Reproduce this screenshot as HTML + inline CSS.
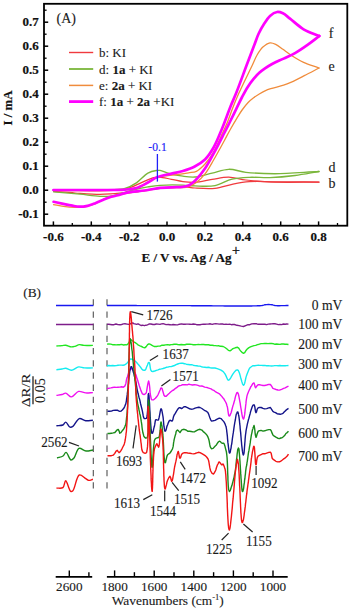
<!DOCTYPE html>
<html><head><meta charset="utf-8"><style>
html,body{margin:0;padding:0;background:#fff;}
body{width:350px;height:609px;overflow:hidden;}
svg{display:block;}
text{font-family:"Liberation Serif",serif;fill:#1a1a1a;}
.tb{font-weight:bold;font-size:13px;fill:#111;stroke:#111;stroke-width:0.2px;}
.tr{font-size:13px;stroke:#1a1a1a;stroke-width:0.12px;}
.b{font-weight:bold;}
</style></head><body>
<svg width="350" height="609" viewBox="0 0 350 609">
<rect width="350" height="609" fill="#fff"/>
<rect x="44" y="3.8" width="303.3" height="221.9" fill="none" stroke="#000" stroke-width="1.8"/>
<line x1="44" y1="214.2" x2="48.2" y2="214.2" stroke="#000" stroke-width="1.5"/>
<text x="38.8" y="218.0" text-anchor="end" class="tb">-0.1</text>
<line x1="44" y1="190.2" x2="48.2" y2="190.2" stroke="#000" stroke-width="1.5"/>
<text x="38.8" y="194.0" text-anchor="end" class="tb">0.0</text>
<line x1="44" y1="166.2" x2="48.2" y2="166.2" stroke="#000" stroke-width="1.5"/>
<text x="38.8" y="170.0" text-anchor="end" class="tb">0.1</text>
<line x1="44" y1="142.2" x2="48.2" y2="142.2" stroke="#000" stroke-width="1.5"/>
<text x="38.8" y="146.0" text-anchor="end" class="tb">0.2</text>
<line x1="44" y1="118.2" x2="48.2" y2="118.2" stroke="#000" stroke-width="1.5"/>
<text x="38.8" y="122.0" text-anchor="end" class="tb">0.3</text>
<line x1="44" y1="94.2" x2="48.2" y2="94.2" stroke="#000" stroke-width="1.5"/>
<text x="38.8" y="98.0" text-anchor="end" class="tb">0.4</text>
<line x1="44" y1="70.2" x2="48.2" y2="70.2" stroke="#000" stroke-width="1.5"/>
<text x="38.8" y="74.0" text-anchor="end" class="tb">0.5</text>
<line x1="44" y1="46.2" x2="48.2" y2="46.2" stroke="#000" stroke-width="1.5"/>
<text x="38.8" y="50.0" text-anchor="end" class="tb">0.6</text>
<line x1="44" y1="22.2" x2="48.2" y2="22.2" stroke="#000" stroke-width="1.5"/>
<text x="38.8" y="26.0" text-anchor="end" class="tb">0.7</text>
<line x1="44" y1="202.2" x2="46.6" y2="202.2" stroke="#000" stroke-width="1.3"/>
<line x1="44" y1="178.2" x2="46.6" y2="178.2" stroke="#000" stroke-width="1.3"/>
<line x1="44" y1="154.2" x2="46.6" y2="154.2" stroke="#000" stroke-width="1.3"/>
<line x1="44" y1="130.2" x2="46.6" y2="130.2" stroke="#000" stroke-width="1.3"/>
<line x1="44" y1="106.2" x2="46.6" y2="106.2" stroke="#000" stroke-width="1.3"/>
<line x1="44" y1="82.2" x2="46.6" y2="82.2" stroke="#000" stroke-width="1.3"/>
<line x1="44" y1="58.2" x2="46.6" y2="58.2" stroke="#000" stroke-width="1.3"/>
<line x1="44" y1="34.2" x2="46.6" y2="34.2" stroke="#000" stroke-width="1.3"/>
<line x1="44" y1="10.2" x2="46.6" y2="10.2" stroke="#000" stroke-width="1.3"/>
<line x1="53.4" y1="225.7" x2="53.4" y2="221.4" stroke="#000" stroke-width="1.5"/>
<text x="53.4" y="241.0" text-anchor="middle" class="tb">-0.6</text>
<line x1="72.3" y1="225.7" x2="72.3" y2="223.0" stroke="#000" stroke-width="1.3"/>
<line x1="91.3" y1="225.7" x2="91.3" y2="221.4" stroke="#000" stroke-width="1.5"/>
<text x="91.3" y="241.0" text-anchor="middle" class="tb">-0.4</text>
<line x1="110.2" y1="225.7" x2="110.2" y2="223.0" stroke="#000" stroke-width="1.3"/>
<line x1="129.2" y1="225.7" x2="129.2" y2="221.4" stroke="#000" stroke-width="1.5"/>
<text x="129.2" y="241.0" text-anchor="middle" class="tb">-0.2</text>
<line x1="148.1" y1="225.7" x2="148.1" y2="223.0" stroke="#000" stroke-width="1.3"/>
<line x1="167.0" y1="225.7" x2="167.0" y2="221.4" stroke="#000" stroke-width="1.5"/>
<text x="167.0" y="241.0" text-anchor="middle" class="tb">0.0</text>
<line x1="186.0" y1="225.7" x2="186.0" y2="223.0" stroke="#000" stroke-width="1.3"/>
<line x1="204.9" y1="225.7" x2="204.9" y2="221.4" stroke="#000" stroke-width="1.5"/>
<text x="204.9" y="241.0" text-anchor="middle" class="tb">0.2</text>
<line x1="223.9" y1="225.7" x2="223.9" y2="223.0" stroke="#000" stroke-width="1.3"/>
<line x1="242.8" y1="225.7" x2="242.8" y2="221.4" stroke="#000" stroke-width="1.5"/>
<text x="242.8" y="241.0" text-anchor="middle" class="tb">0.4</text>
<line x1="261.7" y1="225.7" x2="261.7" y2="223.0" stroke="#000" stroke-width="1.3"/>
<line x1="280.7" y1="225.7" x2="280.7" y2="221.4" stroke="#000" stroke-width="1.5"/>
<text x="280.7" y="241.0" text-anchor="middle" class="tb">0.6</text>
<line x1="299.6" y1="225.7" x2="299.6" y2="223.0" stroke="#000" stroke-width="1.3"/>
<line x1="318.6" y1="225.7" x2="318.6" y2="221.4" stroke="#000" stroke-width="1.5"/>
<text x="318.6" y="241.0" text-anchor="middle" class="tb">0.8</text>
<line x1="337.5" y1="225.7" x2="337.5" y2="223.0" stroke="#000" stroke-width="1.3"/>
<text x="141.4" y="262.3" class="tb" style="font-size:13.1px">E / V vs. Ag / Ag<tspan dx="0.6" dy="-6.8" style="font-size:14px;font-weight:normal;stroke-width:0.35px">+</tspan></text>
<text transform="translate(12.3,108) rotate(-90)" text-anchor="middle" class="tb" style="font-size:12.8px">I / mA</text>
<text x="56.5" y="23.2" class="tr" style="font-size:14px">(A)</text>
<path d="M53.40,190.30 C76.27,190.20 110.06,191.77 122.00,190.00 C126.35,189.35 127.65,188.54 130.70,187.40 C134.26,186.07 138.19,183.91 142.00,182.30 C145.82,180.68 150.37,178.50 153.60,177.70 C155.79,177.16 157.05,177.02 159.30,177.10 C162.59,177.22 167.42,178.54 171.40,179.30 C175.29,180.04 179.00,181.10 182.90,181.60 C186.86,182.11 190.63,182.54 195.00,182.30 C200.22,182.01 206.44,180.27 212.10,179.40 C217.67,178.54 223.12,177.02 228.70,177.10 C234.39,177.18 239.40,179.22 245.90,180.00 C254.31,181.01 264.29,181.73 275.00,182.10 C288.15,182.56 304.33,182.03 319.00,182.00" fill="none" stroke="#f03a3e" stroke-width="1.25" stroke-linejoin="round" stroke-linecap="round"/>
<path d="M319.00,182.00 C304.33,181.93 287.71,181.85 275.00,181.80 C265.29,181.76 256.99,181.14 249.30,181.70 C242.97,182.16 237.80,183.20 232.10,184.30 C226.37,185.40 220.96,187.66 215.00,188.30 C208.63,188.99 200.83,188.36 195.00,188.00 C190.46,187.72 187.33,186.84 182.90,186.70 C177.52,186.53 170.89,186.97 165.00,187.50 C159.22,188.02 153.19,188.97 147.90,189.80 C143.29,190.52 139.79,191.51 135.00,192.10 C129.08,192.83 121.19,193.12 115.00,193.50 C109.64,193.83 105.64,194.30 100.00,194.30 C92.73,194.30 83.01,193.51 75.00,193.00 C67.59,192.53 60.73,191.93 53.60,191.40" fill="none" stroke="#f03a3e" stroke-width="1.25" stroke-linejoin="round" stroke-linecap="round"/>
<path d="M53.40,190.20 C72.27,190.10 97.19,190.53 110.00,189.90 C116.61,189.57 120.45,189.78 125.00,188.50 C129.18,187.32 132.74,185.31 136.40,182.90 C140.40,180.28 144.15,175.16 147.90,173.10 C150.78,171.52 154.15,170.87 156.40,170.50 C157.83,170.27 158.55,170.19 160.00,170.40 C162.37,170.75 165.72,172.50 169.10,173.40 C173.19,174.49 178.43,175.60 182.90,176.20 C187.05,176.76 190.65,177.35 195.00,177.00 C200.24,176.58 206.44,174.39 212.10,173.10 C217.67,171.83 223.10,169.45 228.70,169.30 C234.37,169.15 239.39,171.58 245.90,172.30 C254.31,173.23 264.30,173.71 275.00,173.70 C288.16,173.69 304.33,172.23 319.00,171.50" fill="none" stroke="#7ab63a" stroke-width="1.35" stroke-linejoin="round" stroke-linecap="round"/>
<path d="M319.00,171.50 C311.00,172.83 303.10,174.49 295.00,175.50 C286.77,176.53 277.95,177.32 270.00,177.60 C262.78,177.85 255.87,177.00 249.30,177.30 C243.29,177.57 237.74,177.76 232.10,179.10 C226.30,180.48 221.03,184.45 215.00,185.60 C208.69,186.81 200.83,186.05 195.00,185.90 C190.46,185.78 187.57,185.23 182.90,185.10 C176.48,184.92 166.41,184.85 160.00,185.30 C155.32,185.63 151.99,186.22 147.90,186.90 C143.66,187.61 139.01,188.54 135.00,189.50 C131.44,190.36 128.55,191.32 125.00,192.30 C120.95,193.41 116.28,195.14 112.00,195.80 C107.95,196.42 104.50,196.44 100.00,196.30 C94.17,196.12 87.13,194.90 80.00,194.20 C71.81,193.40 62.40,192.60 53.60,191.80" fill="none" stroke="#7ab63a" stroke-width="1.35" stroke-linejoin="round" stroke-linecap="round"/>
<path d="M53.40,190.00 C68.93,190.00 86.87,190.11 100.00,190.00 C109.62,189.92 118.29,190.12 125.00,189.60 C129.55,189.25 132.68,189.12 136.40,188.00 C140.32,186.82 144.32,184.37 147.90,182.50 C151.14,180.80 153.71,178.45 157.00,177.30 C160.39,176.11 164.51,176.06 168.00,175.60 C171.15,175.18 173.81,175.02 177.00,174.60 C180.63,174.12 185.12,173.40 188.60,172.80 C191.46,172.30 193.89,172.50 196.40,171.30 C199.39,169.87 202.30,166.93 205.00,164.00 C208.09,160.65 210.93,156.54 213.60,152.00 C216.70,146.73 219.61,139.40 222.10,134.00 C224.13,129.61 225.77,126.22 227.50,122.00 C229.38,117.42 231.02,112.26 232.90,107.50 C234.76,102.80 236.27,99.02 238.70,93.60 C242.22,85.73 249.04,72.09 252.40,65.00 C254.39,60.82 255.28,58.06 257.10,55.00 C258.81,52.12 260.63,49.16 262.90,47.10 C264.98,45.21 267.70,43.24 270.00,42.90 C271.94,42.61 273.77,43.43 275.70,44.30 C278.06,45.36 280.52,47.60 282.90,49.30 C285.29,51.00 287.19,52.67 290.00,54.50 C293.75,56.95 298.82,60.16 303.60,62.40 C308.48,64.68 313.87,66.13 319.00,68.00" fill="none" stroke="#f08c3c" stroke-width="1.3" stroke-linejoin="round" stroke-linecap="round"/>
<path d="M319.00,68.00 C314.10,70.57 309.05,73.28 304.30,75.70 C299.87,77.96 295.19,80.41 291.40,82.10 C288.50,83.39 286.56,84.23 283.60,85.20 C279.87,86.43 274.11,87.50 270.70,88.60 C268.39,89.35 266.87,89.92 265.00,90.80 C263.07,91.71 261.18,92.85 259.30,94.00 C257.38,95.18 255.46,96.39 253.60,97.80 C251.65,99.28 249.72,100.81 247.90,102.70 C245.87,104.81 243.90,107.48 242.10,110.00 C240.30,112.51 238.88,114.89 237.10,117.80 C234.90,121.39 232.20,126.05 230.00,130.00 C227.96,133.66 226.52,136.62 224.30,140.70 C221.31,146.20 217.04,154.13 213.60,160.00 C210.64,165.05 208.11,169.97 205.00,173.90 C202.32,177.29 199.44,180.29 196.40,182.50 C193.71,184.45 191.28,185.88 187.90,186.80 C183.52,187.99 176.93,187.54 172.00,187.80 C167.72,188.02 164.00,187.89 160.00,188.30 C155.96,188.72 152.58,189.59 147.90,190.30 C141.48,191.28 132.20,192.13 125.00,193.50 C118.45,194.75 111.71,196.05 106.40,198.00 C102.12,199.57 98.88,202.12 95.30,203.60 C92.14,204.90 88.97,205.99 86.10,206.60 C83.69,207.11 81.35,207.17 79.30,207.30 C77.62,207.40 76.57,207.47 74.70,207.40 C71.75,207.29 66.94,206.79 63.30,206.30 C59.93,205.84 56.83,205.17 53.60,204.60" fill="none" stroke="#f08c3c" stroke-width="1.3" stroke-linejoin="round" stroke-linecap="round"/>
<path d="M53.40,190.00 C68.93,190.00 86.87,190.11 100.00,190.00 C109.62,189.92 118.29,190.12 125.00,189.60 C129.55,189.25 132.68,189.12 136.40,188.00 C140.32,186.82 144.32,184.37 147.90,182.50 C151.14,180.80 153.51,178.71 157.00,177.30 C161.15,175.61 166.86,174.70 171.40,173.60 C175.44,172.62 179.11,172.12 182.90,171.00 C186.75,169.86 190.67,168.67 194.30,166.80 C198.05,164.87 201.86,162.57 205.00,159.50 C208.35,156.22 210.95,152.11 213.60,147.50 C216.74,142.03 219.35,135.14 222.10,128.50 C225.06,121.36 228.08,112.53 230.70,106.00 C232.75,100.91 234.28,97.82 236.40,92.50 C239.40,84.97 243.52,73.43 246.70,65.00 C249.42,57.80 252.12,50.71 254.30,45.00 C255.93,40.73 256.92,37.39 258.60,33.80 C260.26,30.26 262.30,26.70 264.30,23.60 C266.11,20.79 267.75,17.87 270.00,15.90 C272.07,14.09 274.79,12.33 277.10,12.00 C279.08,11.72 280.96,12.41 282.90,13.30 C285.26,14.39 287.27,16.51 290.00,18.60 C293.82,21.53 298.70,26.39 303.60,29.30 C308.47,32.19 314.07,33.77 319.30,36.00" fill="none" stroke="#ff00ff" stroke-width="2.7" stroke-linejoin="round" stroke-linecap="round"/>
<path d="M319.30,36.00 C315.50,38.87 311.86,41.80 307.90,44.60 C303.78,47.51 299.25,50.69 295.00,53.10 C291.16,55.28 287.41,56.78 283.60,58.60 C279.78,60.42 275.43,62.20 272.10,64.00 C269.40,65.46 267.20,66.87 265.00,68.40 C262.96,69.82 261.13,71.13 259.30,72.80 C257.32,74.60 255.44,76.68 253.60,78.90 C251.63,81.29 249.73,83.86 247.90,86.70 C245.88,89.84 243.98,93.44 242.10,97.00 C240.14,100.73 238.35,104.63 236.40,108.60 C234.35,112.78 232.17,117.33 230.10,121.50 C228.14,125.45 226.54,128.62 224.30,133.00 C221.29,138.88 217.04,147.31 213.60,153.60 C210.64,159.03 208.05,164.13 205.00,168.60 C202.28,172.59 199.45,176.34 196.40,179.30 C193.71,181.90 191.40,184.32 187.90,185.70 C183.61,187.39 176.93,187.03 172.00,187.40 C167.72,187.72 163.99,187.47 160.00,187.90 C155.96,188.33 152.58,189.28 147.90,190.00 C141.48,190.99 130.43,191.90 125.00,193.10 C121.92,193.78 120.24,194.67 117.90,195.30 C115.67,195.90 113.50,196.15 111.30,196.80 C109.00,197.47 106.84,198.33 104.40,199.30 C101.56,200.42 98.37,202.05 95.30,203.20 C92.27,204.34 88.97,205.64 86.10,206.20 C83.69,206.67 81.57,206.78 79.30,206.70 C77.00,206.62 74.85,206.12 72.40,205.70 C69.57,205.22 66.38,204.54 63.30,203.90 C60.12,203.24 56.83,202.50 53.60,201.80" fill="none" stroke="#ff00ff" stroke-width="2.7" stroke-linejoin="round" stroke-linecap="round"/>
<line x1="69" y1="52.5" x2="93.2" y2="52.5" stroke="#f03a3e" stroke-width="1.4"/>
<text x="99.0" y="57.1" class="tr">b: KI</text>
<line x1="69" y1="69.0" x2="93.2" y2="69.0" stroke="#7ab63a" stroke-width="1.8"/>
<text x="99.0" y="73.6" class="tr">d: <tspan class="b">1a</tspan> + KI</text>
<line x1="69" y1="85.4" x2="93.2" y2="85.4" stroke="#f08c3c" stroke-width="1.5"/>
<text x="99.0" y="90.0" class="tr">e: <tspan class="b">2a</tspan> + KI</text>
<line x1="69" y1="101.6" x2="93.2" y2="101.6" stroke="#ff00ff" stroke-width="2.8"/>
<text x="99.0" y="106.2" class="tr">f: <tspan class="b">1a</tspan> + <tspan class="b">2a</tspan> +KI</text>
<text x="328.8" y="37.8" class="tr" style="font-size:14px">f</text>
<text x="328.4" y="71.0" class="tr" style="font-size:14px">e</text>
<text x="328.6" y="171.8" class="tr" style="font-size:14px">d</text>
<text x="328.6" y="188.0" class="tr" style="font-size:14px">b</text>
<line x1="157.4" y1="154" x2="157.4" y2="181.6" stroke="#2020f8" stroke-width="1.3"/>
<text transform="translate(157.5,151.0) scale(1,1.12)" text-anchor="middle" style="font-size:11.6px;fill:#2020f8;stroke:#2020f8;stroke-width:0.15px">-0.1</text>
<line x1="55.7" y1="576.8" x2="92.2" y2="576.8" stroke="#000" stroke-width="1.8"/>
<line x1="106.9" y1="576.8" x2="287.7" y2="576.8" stroke="#000" stroke-width="1.8"/>
<line x1="69.3" y1="576.8" x2="69.3" y2="570.4" stroke="#000" stroke-width="1.4"/>
<line x1="88.9" y1="576.8" x2="88.9" y2="572.2" stroke="#000" stroke-width="1.4"/>
<line x1="273.0" y1="576.8" x2="273.0" y2="570.4" stroke="#000" stroke-width="1.4"/>
<text x="273.0" y="591.4" text-anchor="middle" class="tr" style="font-size:13.2px">1000</text>
<line x1="253.2" y1="576.8" x2="253.2" y2="572.2" stroke="#000" stroke-width="1.4"/>
<line x1="233.4" y1="576.8" x2="233.4" y2="570.4" stroke="#000" stroke-width="1.4"/>
<text x="233.4" y="591.4" text-anchor="middle" class="tr" style="font-size:13.2px">1200</text>
<line x1="213.6" y1="576.8" x2="213.6" y2="572.2" stroke="#000" stroke-width="1.4"/>
<line x1="193.8" y1="576.8" x2="193.8" y2="570.4" stroke="#000" stroke-width="1.4"/>
<text x="193.8" y="591.4" text-anchor="middle" class="tr" style="font-size:13.2px">1400</text>
<line x1="174.0" y1="576.8" x2="174.0" y2="572.2" stroke="#000" stroke-width="1.4"/>
<line x1="154.2" y1="576.8" x2="154.2" y2="570.4" stroke="#000" stroke-width="1.4"/>
<text x="154.2" y="591.4" text-anchor="middle" class="tr" style="font-size:13.2px">1600</text>
<line x1="134.4" y1="576.8" x2="134.4" y2="572.2" stroke="#000" stroke-width="1.4"/>
<line x1="114.6" y1="576.8" x2="114.6" y2="570.4" stroke="#000" stroke-width="1.4"/>
<text x="114.6" y="591.4" text-anchor="middle" class="tr" style="font-size:13.2px">1800</text>
<text x="69.3" y="591.4" text-anchor="middle" class="tr" style="font-size:13.2px">2600</text>
<text x="111.8" y="605.0" class="tr" style="font-size:13.4px">Wavenumbers (cm<tspan dy="-5.5" style="font-size:8.5px">-1</tspan><tspan dy="5.5">)</tspan></text>
<text x="23.2" y="297.0" class="tr" style="font-size:13.4px">(B)</text>
<line x1="93.3" y1="299.2" x2="93.3" y2="488.6" stroke="#505050" stroke-width="1.1" stroke-dasharray="6.3,5.9"/>
<line x1="107.0" y1="299.2" x2="107.0" y2="488.6" stroke="#505050" stroke-width="1.1" stroke-dasharray="6.3,5.9"/>
<g transform="translate(30.0,390.3) rotate(-90)"><text x="-16.6" y="0" textLength="33.2" lengthAdjust="spacingAndGlyphs" class="tr" style="font-size:13.4px">&#916;R/R</text></g>
<line x1="33.0" y1="376.3" x2="33.0" y2="404.3" stroke="#333" stroke-width="1.4"/>
<g transform="translate(45.0,390.6) rotate(-90)"><text x="-12.3" y="0" textLength="24.6" lengthAdjust="spacingAndGlyphs" class="tr" style="font-size:13.6px">0.05</text></g>
<path d="M56.0,305.5 L93.4,305.5" fill="none" stroke="#1818f0" stroke-width="1.4" stroke-linejoin="round"/>
<polyline points="107.0,305.5 108.6,305.5 110.2,305.5 111.9,305.5 113.5,305.5 115.1,305.5 116.7,305.5 118.3,305.5 119.9,305.5 121.5,305.5 123.1,305.5 124.7,305.5 126.4,305.5 128.0,305.5 129.6,305.5 131.2,305.5 132.8,305.5 134.4,305.5 136.0,305.5 137.6,305.6 139.2,305.6 140.8,305.6 142.4,305.6 144.0,305.6 145.7,305.6 147.3,305.6 148.9,305.6 150.5,305.6 152.1,305.6 153.7,305.6 155.4,305.6 157.0,305.6 158.6,305.6 160.2,305.6 161.9,305.6 163.5,305.6 165.1,305.6 166.8,305.6 168.4,305.6 170.1,305.6 171.7,305.6 173.4,305.6 175.0,305.6 176.7,305.6 178.3,305.6 180.0,305.6 181.6,305.6 183.2,305.6 184.9,305.6 186.6,305.6 188.3,305.6 190.1,305.6 191.9,305.7 193.8,305.7 195.6,305.7 197.5,305.7 199.4,305.7 201.3,305.7 203.3,305.8 205.2,305.8 207.2,305.8 209.1,305.8 211.1,305.8 213.1,305.9 215.1,305.9 217.0,305.9 219.0,305.9 220.9,305.9 222.9,305.9 224.8,306.0 226.7,306.0 228.6,306.0 230.5,306.0 232.3,306.0 234.1,306.0 235.9,306.0 237.7,306.0 239.4,306.0 241.1,306.0 242.7,306.0 244.3,306.0 245.9,306.0 247.4,306.0 248.9,306.0 250.3,306.0 251.6,306.0 252.9,305.9 254.1,305.9 255.3,305.9 256.4,305.9 257.4,305.8 258.4,305.8 259.3,305.7 260.1,305.7 260.8,305.6 261.4,305.6 262.0,305.5 263.7,305.1 265.0,304.7 266.6,304.6 268.5,304.5 270.4,304.6 272.0,304.7 273.4,305.1 275.0,305.5 276.2,305.6 277.7,305.7 279.3,305.7 281.1,305.6 283.0,305.6 284.9,305.6 286.7,305.5 288.5,305.5" fill="none" stroke="#1818f0" stroke-width="1.4" stroke-linejoin="round"/>
<path d="M56.0,324.5 L93.4,324.5" fill="none" stroke="#7e1d8a" stroke-width="1.4" stroke-linejoin="round"/>
<polyline points="107.0,324.4 108.7,324.3 110.4,324.5 112.0,324.7 114.0,324.7 116.0,324.0 118.0,324.6 120.0,324.8 121.6,324.5 123.4,323.9 125.0,323.8 127.0,324.1 129.0,324.4 131.0,323.5 132.8,322.9 133.9,323.8 135.0,323.9 136.5,324.4 138.0,323.8 139.5,324.7 141.0,325.5 142.6,325.2 144.4,325.7 146.0,325.2 147.5,324.9 149.0,324.0 150.9,324.0 153.0,324.5 154.6,324.5 156.3,324.0 158.1,324.1 160.0,324.4 161.5,323.9 163.1,323.7 164.8,324.2 166.5,324.6 168.2,324.5 170.0,324.7 171.5,324.9 173.1,324.5 174.7,324.7 176.3,324.9 178.0,324.7 179.7,324.2 181.5,323.9 183.2,324.2 185.0,324.2 186.6,324.1 188.2,324.1 189.8,324.2 191.5,324.4 193.2,324.0 194.9,324.2 196.6,324.7 198.3,324.7 200.0,324.8 201.7,324.4 203.3,324.1 205.0,324.2 206.8,324.1 208.6,324.0 210.4,323.8 212.2,324.4 214.0,323.9 215.8,323.8 217.5,323.9 219.2,324.1 220.9,324.0 222.5,324.0 224.0,324.4 226.0,324.2 227.9,324.4 229.7,324.2 231.4,324.7 233.0,324.5 234.5,324.5 236.9,325.3 239.0,325.6 241.3,326.1 243.5,326.5 245.7,325.6 248.0,324.6 249.8,324.7 251.7,323.9 254.0,323.6 255.3,323.7 256.7,323.8 258.2,324.3 259.8,324.1 261.4,324.3 263.1,324.1 264.9,324.3 266.6,324.6 268.3,324.1 270.0,324.0 271.6,323.9 273.3,323.7 274.9,323.7 276.6,324.1 278.3,324.6 280.0,324.5 281.7,324.6 283.4,324.0 285.1,324.2 286.8,324.0 288.5,324.1" fill="none" stroke="#7e1d8a" stroke-width="1.4" stroke-linejoin="round"/>
<path d="M56.40,346.00 C58.27,345.87 60.33,345.75 62.00,345.60 C63.36,345.48 64.35,345.08 65.70,345.20 C67.41,345.36 69.71,346.79 71.40,346.90 C72.73,346.98 73.77,346.64 75.00,346.30 C76.39,345.91 77.81,344.76 79.30,344.60 C80.81,344.44 82.18,345.25 84.00,345.40 C86.49,345.61 89.93,345.40 92.90,345.40" fill="none" stroke="#22e622" stroke-width="1.4" stroke-linejoin="round"/>
<polyline points="107.0,344.1 108.8,343.9 110.7,344.1 112.5,344.7 114.4,344.7 116.2,344.9 118.0,344.6 119.8,344.7 121.6,344.4 123.5,345.0 125.2,344.7 126.7,344.9 127.8,344.2 129.0,342.4 129.6,340.8 129.9,340.0 130.4,339.2 131.9,340.4 133.8,341.8 135.2,342.6 136.8,343.8 138.4,345.2 140.0,345.9 141.6,346.5 143.2,347.3 144.7,347.9 146.2,346.6 147.6,344.7 149.0,343.8 150.5,344.4 152.0,345.3 154.1,346.5 156.4,346.5 158.2,346.1 160.0,346.1 162.0,345.2 163.8,345.3 165.6,344.9 167.5,344.6 169.6,345.0 171.1,344.6 172.6,344.5 174.3,344.2 176.0,344.1 177.7,344.5 179.5,344.7 181.3,344.5 183.2,344.7 185.0,344.7 186.6,344.3 188.2,344.3 189.9,344.3 191.6,344.4 193.3,344.8 195.0,344.8 196.7,344.6 198.4,344.5 200.1,344.6 201.8,344.5 203.4,344.4 205.0,344.8 206.7,344.8 208.5,344.8 210.3,345.2 212.1,345.3 213.8,345.5 215.5,345.6 217.1,345.9 218.5,345.7 219.8,346.2 221.0,346.3 223.2,346.5 225.0,347.5 226.7,348.8 228.4,350.3 230.0,350.8 231.5,349.8 233.0,348.6 235.2,347.8 237.5,347.2 238.7,348.1 240.0,350.1 241.2,351.6 242.4,352.7 243.5,353.3 244.7,352.7 245.8,350.8 247.0,349.3 248.6,347.9 250.4,346.9 252.5,346.1 254.0,345.6 255.7,345.4 257.5,344.6 259.3,344.2 261.2,343.6 263.0,343.6 264.7,343.4 266.3,343.5 268.0,343.6 269.8,343.5 271.5,343.4 273.2,343.7 275.0,344.3 276.6,344.0 278.3,344.2 280.0,344.4 281.7,344.0 283.4,344.0 285.1,344.3 286.8,344.3 288.5,344.5" fill="none" stroke="#22e622" stroke-width="1.4" stroke-linejoin="round"/>
<path d="M56.40,369.70 C58.27,369.47 60.33,369.26 62.00,369.00 C63.36,368.79 64.35,368.20 65.70,368.30 C67.41,368.43 69.41,370.40 71.40,370.30 C73.68,370.18 76.29,367.21 78.60,366.90 C80.57,366.64 82.20,367.72 84.30,367.90 C86.86,368.12 90.03,367.90 92.90,367.90" fill="none" stroke="#14ecf0" stroke-width="1.4" stroke-linejoin="round"/>
<polyline points="107.0,365.8 108.9,365.5 110.7,365.7 112.6,365.5 114.5,365.7 116.3,365.6 118.0,365.2 119.7,365.1 121.4,365.1 123.0,365.2 124.5,365.0 125.9,364.1 127.2,362.9 128.4,361.5 129.4,360.0 130.5,358.9 132.2,359.2 133.8,360.3 135.1,361.0 136.4,362.2 137.7,363.8 138.8,365.0 139.9,366.4 141.0,367.8 142.0,369.3 143.0,370.1 144.0,370.3 144.9,370.2 145.8,369.3 146.6,367.1 147.5,364.9 148.3,362.8 149.0,362.4 149.5,363.0 149.9,364.8 150.2,367.3 150.7,369.9 151.5,371.2 152.9,371.5 154.7,371.0 156.4,370.3 158.1,369.8 159.7,369.2 161.4,368.9 163.0,368.5 164.6,368.0 166.3,367.3 167.9,367.1 169.5,366.6 171.2,366.6 172.9,366.0 174.5,365.5 176.1,364.7 177.7,364.0 179.5,363.4 181.1,363.3 182.8,363.3 184.5,363.7 186.3,364.2 188.2,364.5 190.0,364.8 191.6,364.7 193.2,365.2 194.8,365.6 196.4,365.8 198.1,366.0 199.8,366.1 201.4,366.7 203.0,367.1 204.8,367.2 206.6,367.5 208.4,367.3 210.2,367.7 211.9,368.0 213.5,367.9 215.0,368.0 217.2,368.6 219.2,369.3 221.0,370.1 222.5,371.1 223.8,372.3 225.0,373.9 225.9,375.6 226.8,377.7 227.6,379.6 228.5,380.3 229.5,379.6 230.7,377.8 231.8,375.9 233.0,373.9 234.5,371.9 236.0,370.2 237.5,369.9 238.2,370.3 238.8,371.5 239.5,373.3 240.1,375.4 240.7,377.7 241.3,379.8 241.9,381.9 242.5,383.8 243.0,384.6 243.5,385.3 244.1,384.8 244.6,383.5 245.0,381.8 245.5,379.5 245.9,377.6 246.4,375.9 247.0,374.2 247.7,372.5 248.4,370.8 249.1,369.1 250.0,367.7 251.0,367.0 252.7,365.8 254.7,365.8 257.0,365.4 258.4,365.2 259.8,365.4 261.4,365.4 263.0,365.5 264.7,365.4 266.5,365.7 268.2,365.6 270.0,365.9 271.6,366.0 273.2,365.9 274.8,365.6 276.5,365.6 278.2,365.7 279.9,365.5 281.6,365.7 283.4,365.8 285.1,365.8 286.8,365.6 288.5,365.5" fill="none" stroke="#14ecf0" stroke-width="1.4" stroke-linejoin="round"/>
<path d="M56.40,395.40 C58.27,395.10 60.35,394.94 62.00,394.50 C63.38,394.13 64.38,392.95 65.70,393.10 C67.44,393.30 69.41,396.96 71.40,396.90 C73.69,396.83 76.07,391.97 78.60,391.40 C80.86,390.89 83.31,392.70 85.70,392.90 C88.08,393.10 90.50,392.70 92.90,392.60" fill="none" stroke="#f010f0" stroke-width="1.4" stroke-linejoin="round"/>
<polyline points="107.0,388.8 108.9,388.2 110.8,387.9 112.7,387.5 114.5,387.1 116.3,387.4 118.0,387.2 119.9,387.1 121.7,386.8 123.3,387.2 124.6,386.3 125.4,384.9 125.9,383.4 126.2,381.4 126.5,379.6 127.0,377.8 127.6,376.5 128.2,374.3 128.9,372.4 129.7,370.2 130.4,368.9 131.2,368.4 132.5,369.6 133.9,371.2 135.1,373.1 135.9,374.7 136.5,376.6 137.0,378.6 137.7,380.3 138.2,382.1 138.7,383.7 139.3,385.7 139.9,387.5 140.5,389.3 141.1,390.9 141.7,392.2 142.3,393.7 143.0,394.2 144.3,394.5 145.6,393.6 146.2,392.9 146.6,391.4 147.0,388.8 147.3,386.9 147.7,384.6 148.0,383.1 148.3,381.9 148.6,381.0 148.9,381.7 149.1,383.0 149.4,384.7 149.6,386.4 149.8,388.4 150.0,391.2 150.2,393.7 150.6,395.7 151.0,397.6 151.4,399.3 152.0,399.9 153.6,399.8 155.4,398.3 157.1,396.2 158.0,394.8 158.7,393.2 159.4,391.5 160.1,390.0 160.8,388.1 161.4,387.9 162.1,388.6 162.7,390.7 163.3,392.7 164.0,395.3 164.9,396.3 166.2,396.3 167.7,394.7 169.3,393.3 170.9,391.8 172.2,390.7 173.7,390.0 175.2,388.6 176.6,387.7 178.1,386.4 179.4,385.7 181.1,385.4 182.6,384.7 184.6,384.6 185.9,384.7 187.3,384.9 188.9,384.2 190.6,384.6 192.4,385.0 194.3,384.7 196.1,384.9 198.0,385.4 199.8,386.1 201.4,386.0 203.0,386.3 204.7,387.1 206.3,387.4 207.9,387.8 209.5,388.3 211.0,388.8 212.4,389.9 213.8,390.4 215.0,391.3 216.6,392.3 218.1,393.1 219.4,393.8 220.7,395.2 221.8,396.4 222.8,397.7 223.8,398.8 224.8,400.7 225.6,402.0 226.4,403.6 226.9,405.5 227.4,407.0 227.7,408.8 228.0,411.2 228.3,413.1 228.6,415.0 228.9,415.9 229.3,416.0 229.9,415.7 230.5,414.1 231.1,412.7 231.7,410.5 232.4,407.8 233.0,405.6 233.5,404.2 234.1,402.0 234.7,400.0 235.2,397.6 235.8,395.4 236.4,393.8 236.9,392.6 237.5,392.5 237.9,393.1 238.3,393.9 238.6,395.0 239.0,396.9 239.4,399.1 239.8,401.3 240.2,403.3 240.5,405.6 240.9,408.0 241.3,410.2 241.6,412.5 242.0,414.7 242.3,416.3 242.7,417.8 243.0,418.5 243.3,419.0 243.6,419.1 243.9,418.2 244.2,417.1 244.4,415.8 244.7,414.4 244.9,412.7 245.1,410.1 245.4,408.1 245.6,406.2 245.9,403.9 246.1,401.4 246.4,399.3 246.7,397.7 247.0,395.9 247.4,394.6 248.0,393.0 248.7,391.2 249.4,389.8 250.1,388.4 250.8,386.8 251.5,385.9 252.8,383.7 254.0,382.9 254.6,384.6 255.0,386.6 255.6,387.8 256.6,386.3 258.1,384.8 259.5,384.7 261.2,385.1 263.0,385.5 264.7,385.5 266.7,385.0 268.7,384.4 270.4,384.5 271.6,386.2 272.9,388.3 274.3,388.8 276.1,389.5 277.9,390.0 279.5,390.1 281.6,389.3 283.6,388.4 285.2,387.9 286.9,386.9 288.5,386.2" fill="none" stroke="#f010f0" stroke-width="1.4" stroke-linejoin="round"/>
<path d="M56.40,425.70 C58.57,425.47 61.28,425.79 62.90,425.00 C64.17,424.38 64.68,422.07 65.70,422.10 C67.00,422.14 68.56,426.64 70.00,427.10 C70.97,427.41 71.87,427.05 72.90,426.40 C74.80,425.21 76.90,419.30 79.30,418.60 C81.26,418.03 83.48,420.41 85.70,420.70 C88.00,421.00 90.50,420.43 92.90,420.30" fill="none" stroke="#14148a" stroke-width="1.4" stroke-linejoin="round"/>
<polyline points="107.5,411.3 109.4,411.3 111.4,411.1 113.2,410.4 115.4,410.2 117.3,410.1 118.6,410.9 119.8,411.4 121.0,411.1 122.3,410.0 123.6,408.6 124.7,406.6 125.3,404.9 125.8,403.9 126.1,402.3 126.4,400.8 126.6,398.9 126.9,397.1 127.2,394.9 127.4,392.9 127.6,391.5 127.9,389.5 128.1,387.8 128.3,385.3 128.5,383.3 128.7,380.9 128.9,378.5 129.1,376.7 129.4,375.1 129.6,372.8 129.8,371.1 130.1,369.8 130.4,368.6 130.6,368.0 130.9,366.9 131.2,366.7 131.7,366.8 132.2,368.3 132.8,370.0 133.3,372.0 133.9,373.7 134.4,376.0 135.0,378.2 135.4,379.9 135.8,381.6 136.1,383.0 136.4,385.0 136.7,386.7 137.0,388.6 137.3,390.1 137.7,392.0 138.0,393.3 138.4,394.7 138.8,396.6 139.2,398.0 139.7,399.6 140.1,401.4 140.5,403.4 140.9,405.0 141.3,406.6 141.7,408.1 142.1,409.9 142.5,411.7 142.9,413.8 143.2,415.7 143.7,417.6 144.3,418.5 145.3,418.6 146.3,418.4 146.7,417.7 147.0,416.6 147.2,415.2 147.4,412.9 147.6,410.5 147.7,408.4 147.8,406.3 147.9,404.0 147.9,402.0 148.0,399.4 148.1,397.3 148.2,395.9 148.2,394.4 148.4,393.9 148.5,393.5 148.6,393.7 148.7,394.4 148.9,395.2 149.0,396.1 149.1,397.2 149.2,399.3 149.3,400.8 149.5,402.7 149.6,404.7 149.7,407.6 149.8,409.7 150.0,412.4 150.1,414.5 150.2,417.4 150.4,419.4 150.5,421.4 150.7,423.7 150.8,425.5 151.0,427.5 151.1,429.5 151.3,430.6 151.4,431.7 151.6,432.6 151.8,433.0 152.0,433.3 152.6,433.0 153.2,431.3 153.8,428.4 154.4,426.3 154.8,424.2 155.1,422.1 155.5,420.0 156.1,419.6 157.0,419.9 158.0,420.2 158.5,419.8 159.0,417.9 159.5,415.6 159.9,413.4 160.3,411.1 160.6,409.8 161.0,408.7 161.6,409.4 162.2,412.2 162.7,415.0 163.0,416.7 163.2,418.2 163.4,420.3 163.6,422.7 163.8,424.8 164.0,426.7 164.3,428.1 164.5,429.7 164.8,431.1 165.1,431.2 165.7,430.7 166.3,429.0 166.9,426.4 167.6,424.8 168.4,422.6 169.1,421.1 170.0,420.2 171.0,420.7 172.0,421.2 172.8,419.9 173.4,417.1 174.2,415.0 175.3,413.3 176.4,411.3 177.5,409.6 178.3,408.5 179.1,407.8 180.3,407.8 181.5,408.6 182.7,407.8 184.0,406.8 185.8,406.8 187.9,407.8 189.7,408.8 190.9,409.1 192.1,409.2 193.4,408.8 195.1,408.1 196.9,407.6 198.6,407.3 200.0,407.5 201.9,408.5 203.6,409.7 205.0,410.7 206.6,411.4 207.9,412.6 208.7,414.3 209.3,416.1 209.9,417.8 210.6,419.6 211.4,421.0 213.1,420.8 215.0,420.4 217.2,419.1 219.3,418.1 221.2,418.7 222.9,420.6 224.0,421.9 224.9,423.6 225.7,425.7 226.1,426.6 226.3,428.0 226.6,429.7 226.8,431.6 227.0,433.2 227.2,434.9 227.4,436.6 227.5,438.4 227.7,440.4 227.9,442.4 228.2,444.6 228.4,446.6 228.7,448.6 228.9,450.5 229.2,452.4 229.6,453.1 229.8,452.9 230.0,452.7 230.3,451.8 230.5,450.4 230.8,449.1 231.1,447.8 231.3,445.7 231.7,444.1 232.0,441.9 232.3,439.4 232.6,437.1 233.0,434.5 233.3,432.7 233.7,429.9 234.0,427.7 234.3,425.6 234.7,423.2 235.0,421.5 235.4,419.5 235.7,417.3 236.0,415.6 236.3,414.2 236.7,413.5 236.9,413.0 237.2,412.2 237.5,412.0 237.8,411.9 238.0,412.3 238.3,413.5 238.5,414.7 238.8,415.8 239.0,417.2 239.3,419.6 239.5,421.2 239.7,423.7 240.0,425.8 240.2,428.6 240.4,430.6 240.7,433.1 240.9,435.8 241.1,438.0 241.3,440.6 241.5,442.5 241.7,445.1 241.9,446.7 242.1,448.4 242.3,450.2 242.5,451.7 242.7,452.5 242.9,453.7 243.1,454.5 243.3,455.0 243.5,454.4 243.7,454.2 243.9,453.5 244.1,452.4 244.2,451.1 244.4,448.9 244.5,447.3 244.7,444.9 244.8,443.3 245.0,441.3 245.1,439.3 245.3,437.0 245.5,435.0 245.8,433.0 246.0,431.1 246.3,429.3 246.6,427.8 247.0,425.9 247.4,423.8 247.9,421.8 248.4,419.8 248.9,418.2 249.5,415.9 250.1,413.7 250.6,411.6 251.2,409.8 251.8,408.0 252.3,406.6 252.8,405.5 253.2,405.1 253.6,405.0 254.0,404.7 254.5,405.8 254.9,407.3 255.2,409.6 255.6,411.9 256.0,412.7 256.5,411.8 257.1,409.4 258.1,407.9 259.4,407.4 261.2,407.5 263.0,408.4 264.7,408.9 266.7,408.6 268.7,407.9 270.4,407.5 271.6,409.4 272.9,411.4 274.1,412.1 275.5,412.6 277.1,413.7 278.8,414.0 280.3,414.3 281.7,413.9 283.0,413.3 284.4,411.8 285.8,410.4 287.1,409.3 288.5,408.4" fill="none" stroke="#14148a" stroke-width="1.4" stroke-linejoin="round"/>
<path d="M57.00,458.00 C59.00,457.33 61.45,457.06 63.00,456.00 C64.33,455.09 64.92,452.34 66.00,452.40 C67.51,452.49 69.38,459.67 71.00,460.00 C72.02,460.21 73.01,459.10 74.00,458.00 C75.71,456.10 76.71,449.28 79.00,448.40 C80.90,447.67 83.63,450.75 86.00,451.00 C88.30,451.25 90.67,450.33 93.00,450.00" fill="none" stroke="#1a8a1a" stroke-width="1.4" stroke-linejoin="round"/>
<polyline points="107.5,433.5 109.4,433.5 111.4,433.2 113.3,432.9 114.9,432.5 116.8,430.2 118.2,429.4 119.0,430.8 119.8,433.2 120.9,432.7 122.2,430.8 123.6,429.3 124.7,427.1 125.2,425.8 125.6,424.7 126.0,423.3 126.2,421.1 126.4,419.2 126.6,417.3 126.8,415.9 127.0,414.0 127.2,411.2 127.3,410.4 127.4,409.1 127.5,407.4 127.6,406.1 127.7,404.6 127.7,403.5 127.8,401.5 127.9,399.4 127.9,397.5 128.0,396.0 128.1,394.4 128.1,391.8 128.2,390.2 128.3,387.7 128.3,385.5 128.4,383.5 128.4,381.3 128.5,379.2 128.5,377.3 128.6,374.6 128.6,372.9 128.7,370.7 128.7,368.6 128.8,366.1 128.8,364.3 128.9,361.8 128.9,359.7 129.0,358.0 129.0,356.2 129.1,354.7 129.1,352.9 129.2,351.2 129.2,349.0 129.3,347.7 129.4,346.0 129.4,345.2 129.5,344.2 129.6,343.4 129.7,342.5 129.7,341.3 129.8,340.2 129.9,339.3 130.0,339.6 130.1,338.8 130.2,338.7 130.4,339.4 130.5,339.8 130.7,340.1 130.9,341.5 131.1,343.0 131.3,344.0 131.5,345.4 131.7,347.8 131.9,349.5 132.2,351.3 132.4,353.7 132.6,356.3 132.8,358.2 133.0,360.0 133.2,362.5 133.4,364.5 133.6,366.6 133.8,368.4 134.0,370.2 134.2,372.1 134.4,374.0 134.5,375.6 134.7,377.2 134.9,378.9 135.0,380.9 135.2,381.9 135.3,383.4 135.5,385.4 135.7,387.1 135.8,389.1 136.0,390.6 136.1,392.5 136.3,393.7 136.5,395.2 136.7,396.4 136.9,397.8 137.1,399.9 137.4,402.1 137.7,403.7 138.0,405.1 138.3,406.8 138.7,407.9 139.0,410.1 139.4,411.5 139.7,413.4 140.1,414.7 140.4,416.1 140.7,418.0 141.0,419.6 141.2,421.2 141.5,422.8 141.8,424.8 142.0,427.0 142.3,429.3 142.6,431.0 142.9,432.8 143.3,433.9 143.6,435.4 144.0,436.5 144.5,437.1 145.7,438.1 146.9,437.9 147.2,437.3 147.5,436.8 147.7,435.3 147.9,434.3 148.1,432.4 148.2,430.3 148.3,428.2 148.3,426.1 148.4,424.2 148.4,422.1 148.4,419.8 148.5,416.7 148.4,414.5 148.4,412.6 148.4,410.3 148.4,408.3 148.4,406.0 148.4,404.3 148.4,402.5 148.4,401.5 148.5,400.9 148.5,400.4 148.6,399.9 148.7,400.3 148.7,400.6 148.8,401.4 148.9,401.6 149.0,402.4 149.0,403.5 149.1,404.8 149.2,406.3 149.3,407.4 149.3,409.0 149.4,410.8 149.5,413.0 149.6,415.1 149.7,417.7 149.7,420.0 149.8,422.4 149.9,424.6 150.0,426.7 150.1,429.0 150.2,430.9 150.2,433.7 150.3,436.3 150.4,438.3 150.5,441.0 150.6,442.9 150.7,445.0 150.8,447.7 150.9,449.5 151.0,451.9 151.0,453.5 151.1,455.3 151.2,457.1 151.3,458.9 151.4,460.3 151.5,462.4 151.6,463.3 151.7,464.6 151.8,465.7 151.8,466.4 151.9,466.9 152.0,466.8 152.1,467.4 152.2,466.9 152.4,466.2 152.5,465.6 152.6,464.0 152.7,462.2 152.8,460.1 152.9,458.3 153.0,456.3 153.2,453.5 153.3,451.1 153.4,449.4 153.6,447.0 153.8,445.0 154.0,443.8 154.2,441.9 154.4,440.5 155.1,439.1 156.1,438.2 157.3,437.8 158.6,437.6 159.1,436.8 159.5,435.2 159.8,433.0 160.1,430.7 160.3,428.6 160.4,426.5 160.6,424.3 160.8,422.6 161.0,421.9 161.3,422.5 161.6,424.2 161.9,425.6 162.2,427.8 162.4,430.4 162.7,433.1 162.8,434.7 163.0,436.1 163.1,437.6 163.2,439.4 163.3,440.9 163.4,442.7 163.5,445.1 163.6,447.1 163.7,449.4 163.8,451.8 163.9,453.5 164.0,455.2 164.2,457.5 164.3,458.7 164.4,460.1 164.6,461.6 164.7,462.0 164.9,462.5 165.1,462.7 165.5,462.6 165.9,460.5 166.4,458.5 166.9,456.4 167.6,454.8 168.8,453.8 170.0,453.0 171.3,451.0 172.5,448.9 172.9,447.4 173.2,446.2 173.4,444.4 173.6,442.7 173.9,441.2 174.2,439.4 174.6,437.9 175.1,435.9 175.7,434.0 176.2,431.4 176.9,430.5 177.5,429.9 178.7,431.1 180.0,432.6 181.1,430.8 182.4,429.6 184.1,429.3 186.1,430.0 188.0,431.3 189.6,431.3 191.2,431.5 192.9,431.9 194.7,431.7 196.5,430.6 198.4,429.6 200.0,429.3 201.9,430.1 203.6,431.9 204.7,432.8 205.9,433.9 206.9,435.1 207.9,436.9 208.5,438.5 209.0,440.2 209.4,442.4 209.8,444.7 210.2,446.6 210.8,447.7 211.4,448.7 213.1,448.4 215.0,446.2 216.1,445.3 217.3,443.4 218.3,442.0 219.3,441.2 220.4,441.6 221.4,442.9 222.5,443.2 223.6,443.2 224.3,444.2 224.9,445.9 225.4,448.1 225.9,450.0 226.4,451.8 226.6,453.3 226.8,454.8 226.9,456.0 227.1,458.1 227.2,460.0 227.3,461.6 227.4,463.6 227.5,466.3 227.6,468.7 227.6,470.3 227.7,473.0 227.8,475.2 227.9,476.9 227.9,479.1 228.0,481.0 228.1,483.1 228.2,485.0 228.3,486.2 228.5,488.1 228.6,489.2 228.8,489.9 229.0,490.5 229.2,491.1 229.4,491.6 229.8,491.0 230.3,490.4 230.8,488.7 231.3,487.1 231.9,485.6 232.5,483.3 233.0,481.4 233.6,479.0 234.1,477.1 234.5,474.7 234.8,473.4 235.1,472.1 235.4,470.3 235.6,468.6 235.9,466.4 236.1,463.6 236.3,461.8 236.5,459.3 236.8,457.8 237.0,455.5 237.2,453.7 237.4,452.3 237.6,450.6 237.8,449.1 238.0,448.8 238.2,448.4 238.4,448.0 238.6,448.4 238.7,448.7 238.9,449.0 239.1,450.2 239.2,452.1 239.4,453.9 239.5,455.4 239.7,457.5 239.8,459.4 240.0,461.6 240.1,463.7 240.3,466.1 240.4,468.6 240.6,471.2 240.7,473.4 240.9,475.9 241.0,478.1 241.2,479.9 241.3,481.8 241.5,484.3 241.6,485.6 241.8,487.7 241.9,489.1 242.1,490.5 242.3,491.1 242.4,491.5 242.6,491.5 242.8,491.0 243.0,491.0 243.3,489.7 243.5,489.0 243.7,487.8 243.9,485.7 244.2,483.7 244.4,482.4 244.6,480.0 244.9,478.5 245.1,476.1 245.4,474.1 245.6,471.7 245.9,469.3 246.2,467.2 246.5,466.0 246.8,464.7 247.0,462.7 247.3,461.3 247.6,458.9 247.9,457.0 248.2,454.6 248.5,452.5 248.9,450.7 249.2,449.0 249.5,446.8 249.9,444.8 250.2,442.9 250.5,440.5 250.9,438.2 251.2,436.2 251.5,434.4 251.9,432.8 252.2,431.1 252.5,429.7 252.8,428.9 253.0,428.3 253.3,427.3 253.6,426.8 253.8,425.9 254.0,425.5 254.3,426.5 254.6,428.3 254.9,430.7 255.1,433.1 255.4,435.1 255.7,436.4 256.0,437.4 256.5,436.2 257.1,434.0 258.1,431.4 259.4,430.6 261.1,430.4 263.0,431.1 264.7,430.8 266.7,430.2 268.8,429.6 270.4,429.6 271.4,431.2 272.0,432.9 272.9,434.9 274.3,436.2 275.9,437.2 277.7,438.2 279.5,438.6 280.7,438.0 282.0,437.8 283.3,436.8 284.6,435.6 285.9,433.5 287.2,432.6 288.5,431.2" fill="none" stroke="#1a8a1a" stroke-width="1.4" stroke-linejoin="round"/>
<path d="M56.40,488.10 C58.57,487.93 61.36,488.73 62.90,487.60 C64.55,486.40 64.59,480.73 65.70,480.70 C67.09,480.66 69.04,490.67 70.70,491.40 C71.43,491.72 72.15,491.39 72.90,490.70 C74.93,488.83 76.50,475.98 79.30,475.00 C81.14,474.36 83.99,477.59 85.70,478.60 C86.86,479.29 87.50,480.23 88.60,480.40 C89.86,480.59 91.47,479.67 92.90,479.30" fill="none" stroke="#f21414" stroke-width="1.4" stroke-linejoin="round"/>
<polyline points="107.5,455.7 109.5,455.6 111.4,455.7 113.2,455.2 114.8,453.4 116.1,451.1 117.3,450.3 118.2,451.6 119.0,452.7 119.9,452.0 121.1,450.3 122.2,448.3 123.1,446.5 123.7,445.4 124.3,443.9 124.8,442.0 125.2,440.0 125.6,437.5 125.7,436.3 125.9,435.4 126.0,434.2 126.1,432.9 126.3,432.3 126.4,431.3 126.5,429.4 126.6,427.9 126.7,426.6 126.8,425.2 126.9,423.7 127.0,422.3 127.1,421.0 127.2,418.9 127.2,417.1 127.3,415.6 127.4,413.6 127.5,412.4 127.5,410.4 127.6,408.5 127.7,406.4 127.7,404.5 127.8,402.9 127.9,401.3 127.9,399.1 128.0,397.9 128.1,396.3 128.1,394.4 128.2,392.2 128.2,390.3 128.3,388.4 128.4,386.8 128.4,384.7 128.5,383.4 128.5,381.7 128.6,379.8 128.7,378.7 128.7,377.3 128.8,375.3 128.8,373.3 128.9,371.3 128.9,369.2 128.9,367.4 129.0,365.1 129.0,363.0 129.1,360.7 129.1,359.2 129.1,357.2 129.1,354.5 129.2,352.3 129.2,350.0 129.2,348.2 129.3,346.3 129.3,344.3 129.3,341.7 129.3,339.7 129.4,338.1 129.4,335.7 129.4,333.9 129.5,331.9 129.5,329.6 129.5,327.9 129.5,325.9 129.6,324.3 129.6,323.2 129.6,321.8 129.7,320.0 129.7,318.4 129.8,317.6 129.8,316.8 129.9,315.9 129.9,314.9 130.0,313.6 130.0,313.1 130.1,312.9 130.2,312.3 130.2,312.3 130.3,311.6 130.5,312.0 130.6,313.0 130.8,313.9 131.0,315.6 131.2,317.3 131.4,319.2 131.5,320.9 131.7,323.3 131.9,325.6 132.1,327.9 132.3,330.2 132.4,330.9 132.5,331.9 132.6,333.5 132.7,334.8 132.9,336.4 133.0,337.7 133.1,339.2 133.2,341.0 133.3,342.8 133.4,344.7 133.6,346.8 133.7,348.1 133.8,349.6 133.9,351.4 134.0,353.7 134.1,355.5 134.2,357.1 134.3,358.7 134.5,360.8 134.6,362.7 134.7,364.8 134.8,366.1 134.9,368.0 135.0,369.4 135.0,371.3 135.1,373.4 135.2,374.4 135.3,376.4 135.4,377.3 135.4,378.4 135.5,380.1 135.6,382.2 135.7,383.6 135.7,385.5 135.7,387.1 135.8,388.8 135.8,389.8 135.9,391.6 135.9,393.4 136.0,395.2 136.1,396.7 136.2,398.2 136.3,399.6 136.4,401.0 136.5,402.1 136.7,403.8 136.8,405.7 137.0,407.5 137.1,409.4 137.3,411.1 137.5,413.2 137.7,414.5 137.8,416.4 138.0,418.5 138.2,419.8 138.4,421.6 138.6,423.7 138.8,425.6 139.0,427.2 139.2,429.2 139.4,430.8 139.6,431.9 139.8,433.7 140.0,434.7 140.2,435.9 140.4,437.8 140.7,439.9 140.9,442.0 141.2,443.8 141.4,445.9 141.6,448.0 141.9,449.8 142.3,450.9 142.8,451.9 143.3,452.6 144.7,453.2 146.1,453.0 146.4,452.5 146.7,452.2 146.9,450.8 147.1,449.8 147.3,448.3 147.5,446.9 147.6,445.2 147.7,443.6 147.8,441.3 147.9,439.1 147.9,436.9 148.0,434.6 148.0,432.6 148.0,430.0 148.0,427.4 148.0,425.5 148.0,422.8 148.0,421.1 147.9,418.8 147.9,416.7 147.9,414.6 147.9,413.3 147.9,411.9 147.9,410.1 147.9,409.2 147.9,407.9 148.0,407.1 148.0,407.0 148.1,406.3 148.2,406.5 148.2,407.0 148.3,407.1 148.4,407.4 148.4,408.2 148.5,408.9 148.6,409.9 148.6,411.4 148.7,413.0 148.8,414.1 148.8,416.0 148.9,417.9 149.0,419.2 149.1,421.1 149.1,422.7 149.2,425.0 149.3,427.3 149.4,429.3 149.5,431.0 149.5,433.7 149.6,435.9 149.7,438.5 149.8,440.3 149.9,443.1 149.9,445.1 150.0,447.3 150.1,449.6 150.2,452.3 150.3,455.1 150.3,457.1 150.4,459.7 150.5,461.8 150.6,464.2 150.7,466.7 150.7,468.5 150.8,470.3 150.9,472.4 151.0,474.6 151.1,476.8 151.1,478.9 151.2,480.6 151.3,481.7 151.4,483.2 151.5,484.8 151.5,486.2 151.6,487.3 151.7,487.8 151.7,488.5 151.8,489.4 151.9,490.5 152.0,490.9 152.0,490.7 152.1,491.4 152.2,491.4 152.3,491.2 152.3,489.9 152.4,489.0 152.5,487.4 152.5,486.1 152.6,484.8 152.6,483.5 152.7,481.6 152.7,479.4 152.8,477.2 152.8,475.3 152.9,472.9 153.0,470.4 153.0,468.6 153.1,466.5 153.2,464.2 153.3,461.8 153.4,460.2 153.5,457.8 153.6,456.3 153.7,454.6 153.9,453.2 154.0,451.7 154.2,450.6 154.4,449.1 155.2,446.8 156.1,444.9 156.9,443.7 157.8,445.7 158.6,447.2 158.9,446.7 159.2,445.1 159.4,443.6 159.6,441.5 159.8,438.6 160.0,436.6 160.2,434.3 160.4,431.7 160.6,430.1 160.8,429.1 161.0,429.0 161.3,429.7 161.5,430.8 161.8,432.5 162.0,434.5 162.2,436.3 162.5,438.4 162.7,440.5 162.8,442.2 162.9,443.7 163.0,445.2 163.1,447.0 163.1,448.7 163.2,450.4 163.3,452.4 163.3,454.6 163.4,456.7 163.4,458.6 163.5,461.0 163.5,463.5 163.6,465.7 163.6,467.7 163.7,469.6 163.8,472.1 163.8,474.5 163.9,476.6 164.0,477.8 164.0,479.8 164.1,481.7 164.2,482.8 164.3,484.7 164.4,486.0 164.5,487.1 164.7,488.0 164.8,488.5 164.9,488.9 165.1,489.1 165.5,488.2 166.0,486.1 166.5,484.4 167.0,481.9 167.6,480.2 168.8,477.8 170.0,476.3 170.6,477.5 171.2,480.0 171.7,481.4 172.0,480.9 172.4,480.1 172.8,478.3 173.1,476.4 173.5,474.3 173.9,471.6 174.2,469.3 174.6,467.0 175.0,465.2 175.4,463.3 175.8,461.7 176.3,459.3 176.7,457.2 177.1,454.6 177.5,453.5 177.9,451.9 178.3,451.4 178.7,453.0 179.1,455.3 179.5,457.6 180.0,458.2 180.7,457.3 181.4,454.9 182.4,453.4 183.9,452.8 185.7,452.6 187.8,453.0 190.0,453.2 191.8,453.6 193.6,453.9 195.1,453.5 196.8,452.9 198.5,452.3 200.0,452.6 201.9,453.7 203.6,454.7 205.1,455.6 206.6,457.0 207.9,458.7 208.5,460.2 208.9,462.0 209.2,463.8 209.5,465.7 209.8,467.4 210.2,469.3 210.7,471.0 212.1,473.3 213.6,474.0 214.3,472.8 215.0,471.7 215.8,470.0 216.5,467.5 217.3,465.2 218.0,464.0 218.7,462.4 219.3,461.9 220.4,463.2 221.4,464.7 222.2,464.7 222.9,463.9 223.7,465.2 224.4,467.1 225.0,469.1 225.2,469.6 225.3,470.5 225.5,471.6 225.6,473.3 225.8,474.6 225.9,476.6 226.0,478.3 226.1,479.8 226.3,482.2 226.4,484.1 226.5,486.2 226.6,488.4 226.7,490.3 226.8,492.8 226.9,494.6 227.0,496.9 227.1,499.2 227.2,501.9 227.3,504.1 227.3,505.9 227.4,508.3 227.5,510.4 227.6,512.8 227.7,515.1 227.8,516.6 227.9,518.7 228.0,520.3 228.1,521.9 228.2,523.8 228.3,524.8 228.5,526.4 228.6,527.7 228.7,528.2 228.9,528.8 229.0,529.5 229.1,529.3 229.3,530.0 229.5,529.8 229.6,529.4 229.8,528.8 229.9,528.4 230.1,527.4 230.3,525.8 230.5,524.4 230.6,523.5 230.8,521.6 231.0,519.9 231.2,518.0 231.4,516.5 231.6,514.1 231.8,512.2 232.0,510.3 232.2,508.4 232.4,505.9 232.6,503.0 232.8,501.2 233.1,498.7 233.3,496.1 233.5,493.7 233.7,491.5 233.9,489.3 234.1,486.9 234.3,484.7 234.5,481.8 234.7,479.3 234.9,477.1 235.1,474.7 235.3,472.6 235.5,470.6 235.7,469.0 235.9,467.3 236.1,466.4 236.3,464.8 236.5,463.9 236.7,462.3 236.8,461.8 237.0,460.8 237.2,460.0 237.3,459.6 237.5,459.3 237.7,460.2 237.8,460.8 238.0,461.6 238.1,462.3 238.2,463.1 238.4,464.0 238.5,465.4 238.6,467.0 238.7,468.8 238.9,470.6 239.0,472.7 239.1,474.0 239.2,475.9 239.3,478.6 239.4,480.8 239.5,482.8 239.6,485.7 239.8,487.6 239.9,490.5 240.0,492.6 240.1,495.0 240.2,497.6 240.3,499.8 240.4,502.0 240.5,504.0 240.6,506.8 240.7,508.4 240.8,510.2 240.9,512.7 241.1,514.8 241.2,516.6 241.3,517.7 241.4,519.0 241.6,520.5 241.7,520.9 241.9,521.8 242.0,522.3 242.1,522.5 242.3,522.6 242.5,522.6 242.7,522.0 242.9,521.3 243.1,520.6 243.4,519.9 243.6,518.7 243.8,517.3 244.1,515.5 244.3,513.5 244.5,512.2 244.8,510.1 245.0,508.3 245.3,506.4 245.5,503.9 245.8,502.0 246.0,499.9 246.3,497.4 246.5,495.3 246.8,493.7 247.0,491.4 247.3,489.1 247.5,487.8 247.8,485.6 248.0,484.0 248.3,482.7 248.5,480.4 248.8,478.6 249.1,476.1 249.3,474.6 249.6,472.7 249.9,470.6 250.2,468.3 250.5,466.1 250.8,463.8 251.1,461.3 251.3,459.0 251.6,457.4 251.9,455.3 252.2,453.6 252.4,452.2 252.7,450.6 252.9,449.8 253.2,448.3 253.4,447.6 253.6,446.6 253.8,446.2 254.0,446.3 254.2,446.6 254.5,448.2 254.6,450.0 254.8,452.4 255.0,454.8 255.1,457.0 255.3,459.9 255.4,462.2 255.6,463.9 255.8,464.5 256.0,464.8 256.3,464.4 256.5,462.5 256.8,460.0 257.3,457.6 258.1,456.1 259.4,455.4 261.1,454.6 263.0,453.7 264.7,453.8 266.7,453.1 268.8,452.4 270.4,452.2 271.2,453.3 271.6,455.4 272.1,458.0 272.9,459.2 274.3,460.1 275.9,461.3 277.7,461.9 279.5,461.8 280.8,461.2 282.0,460.3 283.3,459.2 284.6,458.4 285.9,457.3 287.2,456.0 288.5,454.2" fill="none" stroke="#f21414" stroke-width="1.4" stroke-linejoin="round"/>
<text x="342.4" y="310.2" text-anchor="end" class="tr" style="font-size:13.6px">0 mV</text>
<text x="342.4" y="329.4" text-anchor="end" class="tr" style="font-size:13.6px">100 mV</text>
<text x="342.4" y="349.2" text-anchor="end" class="tr" style="font-size:13.6px">200 mV</text>
<text x="342.4" y="369.2" text-anchor="end" class="tr" style="font-size:13.6px">300 mV</text>
<text x="342.4" y="390.0" text-anchor="end" class="tr" style="font-size:13.6px">400 mV</text>
<text x="342.4" y="414.0" text-anchor="end" class="tr" style="font-size:13.6px">500 mV</text>
<text x="342.4" y="438.0" text-anchor="end" class="tr" style="font-size:13.6px">600 mV</text>
<text x="342.4" y="461.0" text-anchor="end" class="tr" style="font-size:13.6px">700 mV</text>
<text transform="translate(146.4,319.6) scale(1,1.07)" class="tr" style="font-size:13.1px">1726</text>
<line x1="131.3" y1="311.6" x2="143.2" y2="314.8" stroke="#222" stroke-width="1.2"/>
<text transform="translate(162.60000000000002,359.2) scale(1,1.07)" class="tr" style="font-size:13.1px">1637</text>
<line x1="149.9" y1="360.5" x2="158.1" y2="355.6" stroke="#222" stroke-width="1.2"/>
<text transform="translate(172.60000000000002,380.8) scale(1,1.07)" class="tr" style="font-size:13.1px">1571</text>
<line x1="161.4" y1="386.0" x2="170.4" y2="379.4" stroke="#222" stroke-width="1.2"/>
<text transform="translate(41.3,447.0) scale(1,1.07)" class="tr" style="font-size:13.1px">2562</text>
<line x1="69.0" y1="442.4" x2="79.0" y2="446.0" stroke="#222" stroke-width="1.2"/>
<text transform="translate(116.0,466.2) scale(1,1.07)" class="tr" style="font-size:13.1px">1693</text>
<line x1="136.2" y1="425.3" x2="133.0" y2="448.3" stroke="#222" stroke-width="1.2"/>
<text transform="translate(114.0,507.5) scale(1,1.07)" class="tr" style="font-size:13.1px">1613</text>
<line x1="143.3" y1="499.6" x2="152.3" y2="494.7" stroke="#222" stroke-width="1.2"/>
<text transform="translate(150.0,516.1) scale(1,1.07)" class="tr" style="font-size:13.1px">1544</text>
<line x1="164.7" y1="490.6" x2="164.7" y2="501.3" stroke="#222" stroke-width="1.2"/>
<text transform="translate(174.0,504.0) scale(1,1.07)" class="tr" style="font-size:13.1px">1515</text>
<line x1="172.1" y1="482.4" x2="178.7" y2="490.6" stroke="#222" stroke-width="1.2"/>
<text transform="translate(179.8,482.8) scale(1,1.07)" class="tr" style="font-size:13.1px">1472</text>
<line x1="180.3" y1="461.9" x2="185.2" y2="469.3" stroke="#222" stroke-width="1.2"/>
<text transform="translate(251.3,488.4) scale(1,1.07)" class="tr" style="font-size:13.1px">1092</text>
<line x1="256.1" y1="466.0" x2="256.1" y2="475.0" stroke="#222" stroke-width="1.2"/>
<text transform="translate(206.0,553.6) scale(1,1.07)" class="tr" style="font-size:13.1px">1225</text>
<line x1="228.6" y1="533.1" x2="221.7" y2="540.0" stroke="#222" stroke-width="1.2"/>
<text transform="translate(246.0,545.6) scale(1,1.07)" class="tr" style="font-size:13.1px">1155</text>
<line x1="243.4" y1="524.0" x2="252.6" y2="532.0" stroke="#222" stroke-width="1.2"/>
</svg>
</body></html>
